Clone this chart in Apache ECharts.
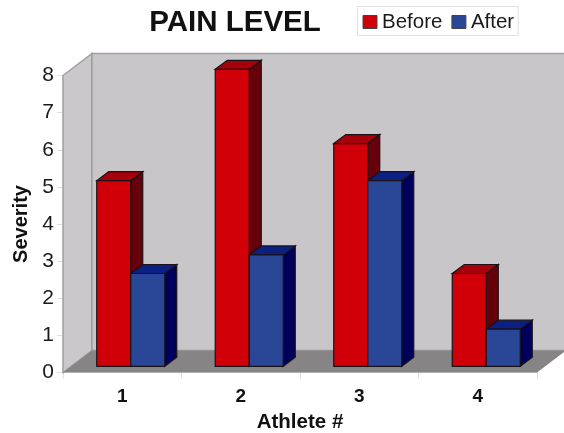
<!DOCTYPE html>
<html><head><meta charset="utf-8">
<style>html,body{margin:0;padding:0;background:#fff}#c{width:564px;height:433px}</style>
<script src="https://cdn.jsdelivr.net/npm/echarts@6/dist/echarts.min.js"></script>
</head><body><div id="c"></div>
<script>
var categories = ['1','2','3','4'];
var before = [5,8,6,2.5];
var after = [2.5,3,5,1];
var FONT = '"Liberation Sans", Arial, sans-serif';
var DX = 29, DY = 22, BDX = 12, BDY = 9, BAROFF = 8.5, BASEY = 6.2, BW = 34;

function poly(pts, fill, stroke, lw){
  return {type:'polygon', shape:{points:pts}, style:{fill:fill, stroke:stroke||null, lineWidth:lw||0}};
}
function barItem(cols, sign){
  return function(params, api){
    var idx = api.value(0);
    var p = api.coord([idx, api.value(1)]);
    var b = api.coord([idx, 0]);
    var cx = p[0] + BAROFF;
    var l = sign < 0 ? cx - BW : cx, r = l + BW;
    var t = p[1] - BASEY, bot = b[1] - BASEY;
    var s = '#1a1216', w = 1.2;
    return {type:'group', children:[
      poly([[r,t],[r+BDX,t-BDY],[r+BDX,bot-BDY],[r,bot]], cols[2], s, w),
      poly([[l,t],[l+BDX,t-BDY],[r+BDX,t-BDY],[r,t]], cols[1], s, w),
      poly([[l,t],[r,t],[r,bot],[l,bot]], cols[0], s, w)
    ]};
  };
}
function wallItem(params, api){
  var band = api.size([1,0])[0];
  var lo = api.coord([0,0]), hi = api.coord([3,8]);
  var x0 = lo[0] - band/2, x1 = hi[0] + band/2, y0 = lo[1], y1 = hi[1];
  var edge = '#a09ea0';
  return {type:'group', silent:true, children:[
    poly([[x0,y0],[x0,y1],[x0+DX,y1-DY],[x0+DX,y0-DY]], '#cac8ca', edge, 1.5),
    poly([[x0+DX,y0-DY],[x0+DX,y1-DY],[x1+DX,y1-DY],[x1+DX,y0-DY]], '#c8c6c8', edge, 1.5),
    poly([[x0,y0],[x0+DX,y0-DY],[x1+DX,y0-DY],[x1,y0]], '#868484', null, 0)
  ]};
}
var chart = echarts.init(document.getElementById('c'), null, {renderer:'canvas'});
chart.setOption({
  animation:false,
  backgroundColor:'#fff',
  textStyle:{fontFamily:FONT},
  title:{text:'PAIN LEVEL', left:230, textAlign:'center', top:3,
    textStyle:{fontFamily:FONT, fontWeight:'bold', fontSize:29.5, color:'#111'}},
  legend:{left:357.5, top:6.5, padding:[5,4,3,5], itemGap:9, itemWidth:14, itemHeight:13,
    borderColor:'#e2e0e2', borderWidth:1, backgroundColor:'#fff',
    icon:'rect',
    textStyle:{fontFamily:FONT, fontSize:20.5, color:'#1a1a1a', padding:[0,0,0,0]},
    data:[
      {name:'Before', itemStyle:{color:'#d10008', borderColor:'#444', borderWidth:1}},
      {name:'After', itemStyle:{color:'#2a4697', borderColor:'#444', borderWidth:1}}
    ]},
  grid:{left:63, right:27, top:75.5, bottom:60.5, containLabel:false, outerBoundsMode:'none'},
  xAxis:{type:'category', data:categories, name:'Athlete #', nameLocation:'middle', nameGap:38,
    nameTextStyle:{fontFamily:FONT, fontWeight:'bold', fontSize:20.5, color:'#111'},
    axisLine:{lineStyle:{color:'#e0dee0',width:1}},
    axisTick:{show:true, length:6, lineStyle:{color:'#e0dee0'}},
    axisLabel:{fontFamily:FONT, fontWeight:'bold', fontSize:19, color:'#111', margin:15},
    splitLine:{show:false}},
  yAxis:{type:'value', min:0, max:8, interval:1, name:'Severity', nameLocation:'middle', nameGap:32, nameRotate:90,
    nameTextStyle:{fontFamily:FONT, fontWeight:'bold', fontSize:20, color:'#111'},
    axisLine:{show:false},
    axisTick:{show:true, length:6, lineStyle:{color:'#e0dee0'}},
    axisLabel:{fontFamily:FONT, fontSize:21, color:'#1a1a1a', margin:9, padding:[4,0,0,0]},
    splitLine:{show:false}},
  series:[
    {type:'custom', name:'wall', coordinateSystem:'cartesian2d', clip:false, z:1, silent:true, data:[[0,0]], renderItem:wallItem, encode:{x:0,y:1}},
    {type:'custom', name:'Before', coordinateSystem:'cartesian2d', clip:false, z:3, itemStyle:{color:'#d10008'},
      data:before.map(function(v,i){return [i,v];}), renderItem:barItem(['#d10008','#a8000a','#66000a'],-1), encode:{x:0,y:1}},
    {type:'custom', name:'After', coordinateSystem:'cartesian2d', clip:false, z:4, itemStyle:{color:'#2a4697'},
      data:after.map(function(v,i){return [i,v];}), renderItem:barItem(['#2a4697','#0c1f82','#00005c'],1), encode:{x:0,y:1}}
  ]
});
</script></body></html>
